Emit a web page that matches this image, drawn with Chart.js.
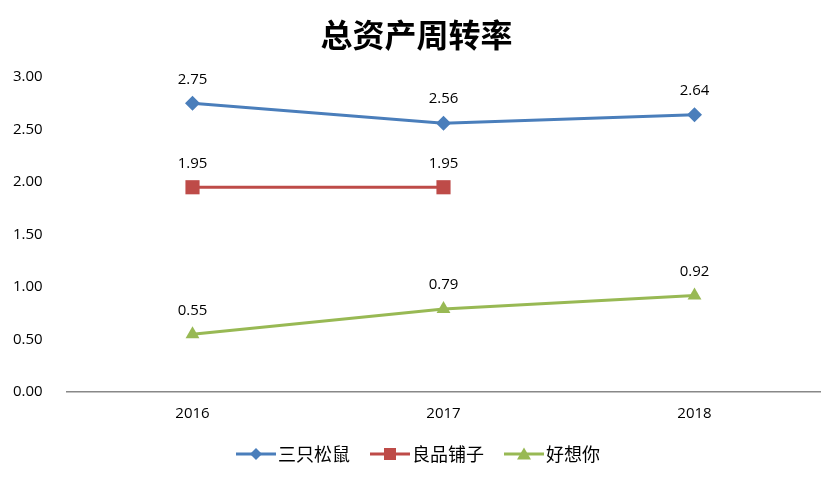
<!DOCTYPE html>
<html>
<head>
<meta charset="utf-8">
<script src="https://cdn.jsdelivr.net/npm/chart.js@4"></script>
<style>
html,body{margin:0;padding:0;background:#fff;}
#wrap{width:840px;height:480px;}
</style>
</head>
<body>
<div id="wrap"><canvas id="c" width="840" height="480"></canvas></div>
<script>
const titleText = '总资产周转率';
const categories = ['2016', '2017', '2018'];
const seriesNames = ['三只松鼠', '良品铺子', '好想你'];
const squirrel = [2.75, 2.56, 2.64];
const bestore = [1.95, 1.95, null];
const haoxiangni = [0.55, 0.79, 0.92];
const yTicks = [0, 0.5, 1, 1.5, 2, 2.5, 3];

const colors = ['#4A7EBB', '#BE4B48', '#98B954'];
const styles = ['rectRot', 'rect', 'triangle'];
const radii = [7.5, 10, 8];

function legendImg(color, style) {
  const c = document.createElement('canvas');
  c.width = 50; c.height = 16;
  const g = c.getContext('2d');
  g.strokeStyle = color; g.lineWidth = 3;
  g.beginPath(); g.moveTo(10, 8); g.lineTo(50, 8); g.stroke();
  g.fillStyle = color;
  g.beginPath();
  const cx = 30;
  if (style === 'rectRot') {
    g.moveTo(cx, 2); g.lineTo(cx + 6, 8); g.lineTo(cx, 14); g.lineTo(cx - 6, 8);
  } else if (style === 'rect') {
    g.rect(cx - 6, 2, 12, 12);
  } else {
    g.moveTo(cx, 1.5); g.lineTo(cx + 7, 13.5); g.lineTo(cx - 7, 13.5);
  }
  g.closePath(); g.fill();
  return c;
}

const dataLabels = {
  id: 'dataLabels',
  afterDatasetsDraw(chart) {
    const ctx = chart.ctx;
    ctx.save();
    ctx.font = '15px "Open Sans"';
    ctx.fillStyle = '#000';
    ctx.textAlign = 'center';
    ctx.textBaseline = 'middle';
    chart.data.datasets.forEach((ds, i) => {
      const meta = chart.getDatasetMeta(i);
      meta.data.forEach((pt, j) => {
        const v = ds.data[j];
        if (v === null || v === undefined) return;
        ctx.fillText(v.toFixed(2), pt.x, pt.y - 24);
      });
    });
    ctx.restore();
  }
};

const seriesData = [squirrel, bestore, haoxiangni];
const datasets = seriesData.map((d, i) => ({
  label: seriesNames[i],
  data: d,
  borderColor: colors[i],
  backgroundColor: colors[i],
  borderWidth: 3,
  pointStyle: styles[i],
  pointRadius: radii[i],
  pointHoverRadius: radii[i],
  pointBackgroundColor: colors[i],
  pointBorderColor: colors[i],
  pointBorderWidth: 0,
  tension: 0,
  spanGaps: false,
  fill: false
}));

new Chart(document.getElementById('c'), {
  type: 'line',
  data: { labels: categories, datasets },
  plugins: [dataLabels],
  options: {
    responsive: false,
    animation: false,
    devicePixelRatio: 1,
    layout: { padding: { left: 13, right: 20, top: 0, bottom: 7 } },
    plugins: {
      title: {
        display: true,
        text: titleText,
        color: '#000',
        font: { family: '"Noto Sans CJK SC"', size: 32, weight: 'bold' },
        padding: { top: 15.5, bottom: 23.1 }
      },
      legend: {
        position: 'bottom',
        labels: {
          usePointStyle: true,
          pointStyleWidth: 36,
          color: '#000',
          font: { family: '"Noto Sans CJK SC"', size: 18 },
          padding: 17,
          generateLabels(chart) {
            return chart.data.datasets.map((ds, i) => ({
              text: ds.label,
              pointStyle: legendImg(colors[i], styles[i]),
              fillStyle: colors[i],
              strokeStyle: colors[i],
              lineWidth: 0,
              fontColor: '#000',
              datasetIndex: i,
              hidden: false
            }));
          }
        }
      },
      tooltip: { enabled: false }
    },
    scales: {
      x: {
        offset: true,
        grid: { display: false },
        border: { display: true, color: '#888', width: 1.5 },
        ticks: { color: '#000', font: { family: '"Open Sans"', size: 15 }, padding: 5 }
      },
      y: {
        min: 0, max: 3,
        afterBuildTicks(scale) { scale.ticks = yTicks.map(v => ({ value: v })); },
        afterFit(scale) { scale.width = 54; },
        grid: { display: false },
        border: { display: false },
        ticks: {
          color: '#000',
          font: { family: '"Open Sans"', size: 15 },
          crossAlign: 'far',
          callback: v => Number(v).toFixed(2)
        }
      }
    }
  }
});
</script>
</body>
</html>
